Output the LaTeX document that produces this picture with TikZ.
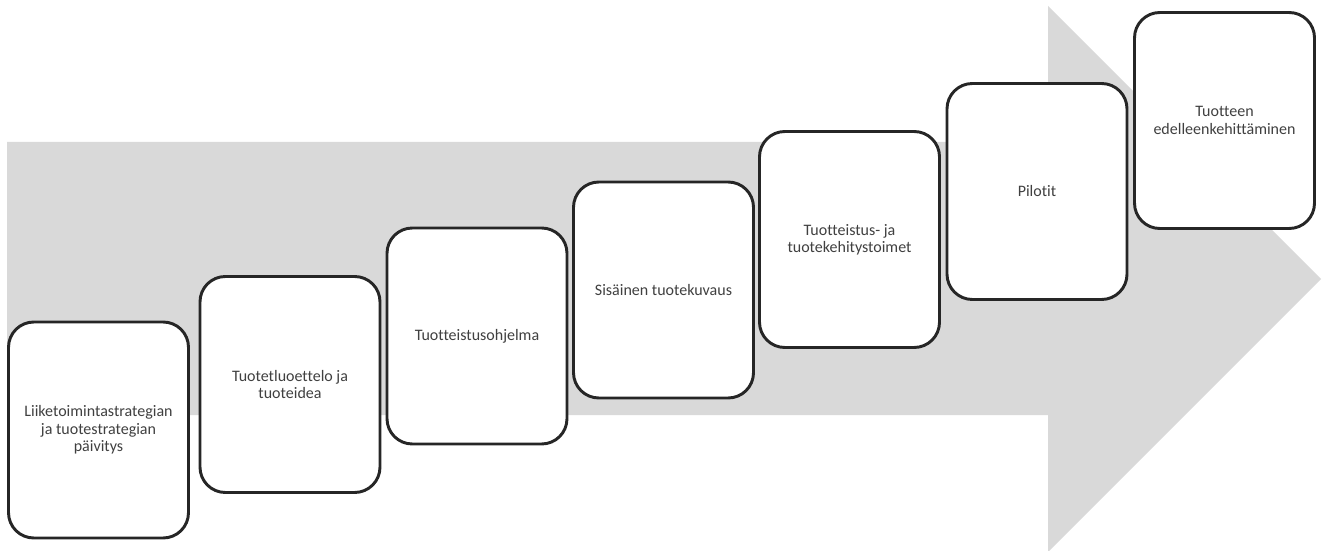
\documentclass[tikz,border=0pt]{standalone}
\usepackage{fontspec}
\setmainfont[Ligatures={NoCommon}]{Carlito}
\usepackage{tikz}
\tikzset{stage/.style = {draw=black!85, line width=2.2pt, fill=white, rounded corners=19pt,
                         minimum width=135pt, minimum height=162pt, align=center,
                         text=black!75, font=\fontsize{12}{13}\selectfont}}
\definecolor{arrowgray}{RGB}{217, 217, 217}

\begin{document}
\begin{tikzpicture}[x=0.75pt, y=0.75pt]
      \useasboundingbox (0, 0) rectangle (1323, 550);

      \fill [arrowgray] (7, 135) -- (7, 408) -- (1048, 408) -- (1048, 544) -- (1321, 271)
                        -- (1048, -2) -- (1048, 135) -- cycle;

      \node [stage] (paivitys) at (98.5, 120) {Liiketoimintastrategian\\ja tuotestrategian\\päivitys};
      \node [stage] (luettelo) at (290, 165.5) {Tuotetluoettelo ja\\tuoteidea};
      \node [stage] (ohjelma) at (477, 214) {Tuotteistusohjelma};
      \node [stage] (kuvaus) at (663.5, 260) {Sisäinen tuotekuvaus};
      \node [stage] (toimet) at (849.5, 310.5) {Tuotteistus- ja\\tuotekehitystoimet};
      \node [stage] (pilotit) at (1037, 358.5) {Pilotit};
      \node [stage] (kehitys) at (1224.5, 429.5) {Tuotteen\\edelleenkehittäminen};
    \end{tikzpicture}
\end{document}
